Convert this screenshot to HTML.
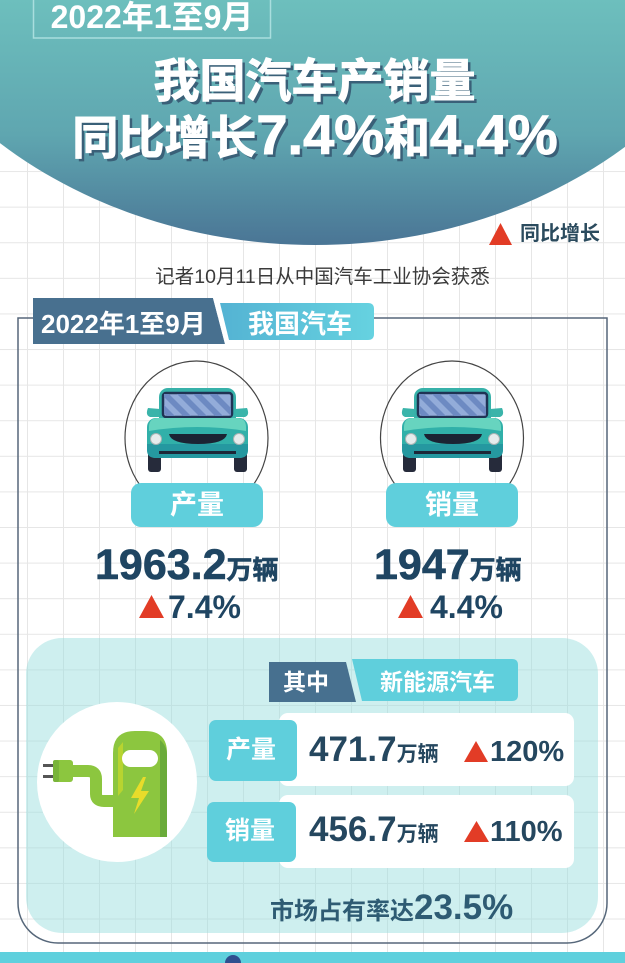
<!DOCTYPE html>
<html><head><meta charset="utf-8">
<style>
html,body{margin:0;padding:0;}
body{width:625px;height:963px;position:relative;overflow:hidden;background-color:#fff;
background-image:linear-gradient(to right,#e6e6e6 1px,transparent 1px),linear-gradient(to bottom,#e6e6e6 1px,transparent 1px);
background-size:36px 35.6px;background-position:27px 28.7px;
font-family:"Liberation Sans","Noto Sans CJK SC",sans-serif;}
.t{position:absolute;white-space:nowrap;font-weight:bold;}
svg{position:absolute;left:0;top:0;}
</style></head><body>
<svg width="625" height="963" viewBox="0 0 625 963">
<defs>
<linearGradient id="tg" gradientUnits="userSpaceOnUse" x1="0" y1="0" x2="0" y2="245">
<stop offset="0" stop-color="#6dbfbd"/><stop offset="0.55" stop-color="#5fa6b0"/><stop offset="1" stop-color="#4a7595"/>
</linearGradient>
<linearGradient id="lt" x1="0" y1="0" x2="1" y2="0">
<stop offset="0" stop-color="#54b3d3"/><stop offset="1" stop-color="#66d2e0"/>
</linearGradient>
<clipPath id="ws"><rect x="17" y="6" width="67" height="22"/></clipPath>
</defs>
<ellipse cx="315" cy="-150" rx="470" ry="395" fill="url(#tg)"/>
<rect x="33.5" y="-2" width="237" height="40" fill="none" stroke="#a9dede" stroke-width="1.5"/>
<polygon points="489,245 500.5,223 512,245" fill="#e23c26"/>
<path d="M18,318 H607 V903 A40,40 0 0 1 567,943 H58 A40,40 0 0 1 18,903 Z" fill="none" stroke="#56677a" stroke-width="1.5"/>
<polygon points="33,298 213,298 225,344 33,344" fill="#48708f"/>
<polygon points="213,298 221,298 233,344 225,344" fill="#fff"/>
<path d="M220,303 H368 Q374,303 374,309 V334 Q374,340 368,340 H229 Z" fill="url(#lt)"/>
<ellipse cx="196.5" cy="438" rx="71.5" ry="77" fill="none" stroke="#444" stroke-width="1.2"/>
<ellipse cx="452" cy="438" rx="71.5" ry="77" fill="none" stroke="#444" stroke-width="1.2"/>
<g transform="translate(147,388)">
<rect x="1" y="62" width="13" height="22" rx="3" fill="#262b3b"/>
<rect x="87" y="62" width="13" height="22" rx="3" fill="#262b3b"/>
<path d="M13,21 L1,20 Q-2,27 3,29 L13,29 Z" fill="#3ab4aa"/>
<path d="M88,21 L100,20 Q103,27 98,29 L88,29 Z" fill="#3ab4aa"/>
<rect x="12" y="0" width="77" height="40" rx="9" fill="#37b1a9"/>
<rect x="16" y="5" width="69" height="24" rx="3" fill="#93acd9" stroke="#1f3354" stroke-width="2.5"/>
<g clip-path="url(#ws)" fill="#6d8ac2">
<polygon points="14,6 22,6 44,28 36,28"/><polygon points="30,6 38,6 60,28 52,28"/>
<polygon points="46,6 54,6 76,28 68,28"/><polygon points="62,6 70,6 92,28 84,28"/>
<polygon points="-2,6 6,6 28,28 20,28"/>
</g>
<rect x="0" y="30" width="101" height="40" rx="9" fill="#31b0a9"/>
<path d="M2,39 Q2,30 11,30 H90 Q99,30 99,39 L99,43 Q50,35 2,43 Z" fill="#67d4bf"/>
<path d="M0,56 H101 V62 Q101,70 92,70 H9 Q0,70 0,62 Z" fill="#2598a0"/>
<circle cx="9" cy="51" r="5.5" fill="#e6ecec" stroke="#a9b3b3" stroke-width="1"/>
<circle cx="92" cy="51" r="5.5" fill="#e6ecec" stroke="#a9b3b3" stroke-width="1"/>
<path d="M22,46 H80 Q78,56 51,56 Q24,56 22,46 Z" fill="#1b2333"/>
<rect x="12" y="63" width="77" height="3" fill="#1d2838"/>
</g>
<g transform="translate(402,388)">
<rect x="1" y="62" width="13" height="22" rx="3" fill="#262b3b"/>
<rect x="87" y="62" width="13" height="22" rx="3" fill="#262b3b"/>
<path d="M13,21 L1,20 Q-2,27 3,29 L13,29 Z" fill="#3ab4aa"/>
<path d="M88,21 L100,20 Q103,27 98,29 L88,29 Z" fill="#3ab4aa"/>
<rect x="12" y="0" width="77" height="40" rx="9" fill="#37b1a9"/>
<rect x="16" y="5" width="69" height="24" rx="3" fill="#93acd9" stroke="#1f3354" stroke-width="2.5"/>
<g clip-path="url(#ws)" fill="#6d8ac2">
<polygon points="14,6 22,6 44,28 36,28"/><polygon points="30,6 38,6 60,28 52,28"/>
<polygon points="46,6 54,6 76,28 68,28"/><polygon points="62,6 70,6 92,28 84,28"/>
<polygon points="-2,6 6,6 28,28 20,28"/>
</g>
<rect x="0" y="30" width="101" height="40" rx="9" fill="#31b0a9"/>
<path d="M2,39 Q2,30 11,30 H90 Q99,30 99,39 L99,43 Q50,35 2,43 Z" fill="#67d4bf"/>
<path d="M0,56 H101 V62 Q101,70 92,70 H9 Q0,70 0,62 Z" fill="#2598a0"/>
<circle cx="9" cy="51" r="5.5" fill="#e6ecec" stroke="#a9b3b3" stroke-width="1"/>
<circle cx="92" cy="51" r="5.5" fill="#e6ecec" stroke="#a9b3b3" stroke-width="1"/>
<path d="M22,46 H80 Q78,56 51,56 Q24,56 22,46 Z" fill="#1b2333"/>
<rect x="12" y="63" width="77" height="3" fill="#1d2838"/>
</g>
<rect x="131" y="483" width="132" height="44" rx="10" fill="#5fcfdc"/>
<rect x="386" y="483" width="132" height="44" rx="10" fill="#5fcfdc"/>
<polygon points="139,618 151.5,595 164,618" fill="#e23c26"/>
<polygon points="398,618 410.5,595 423,618" fill="#e23c26"/>
<rect x="26" y="638" width="572" height="295" rx="36" fill="rgba(150,222,220,0.47)"/>
<polygon points="269,662 346,662 356,702 269,702" fill="#47708f"/>
<path d="M352,659 H512 Q518,659 518,665 V695 Q518,701 512,701 H362 Z" fill="#5fcfdc"/>
<circle cx="117" cy="782" r="80" fill="#fff"/>
<path d="M68,771 H88 Q96,771 96,779 V794 Q96,801 104,801 H118" fill="none" stroke="#8cc63f" stroke-width="12"/>
<rect x="43" y="764" width="11" height="3" fill="#555"/>
<rect x="43" y="775" width="11" height="3" fill="#555"/>
<rect x="53" y="760" width="20" height="22" rx="3" fill="#8cc63f"/>
<rect x="53" y="760" width="6" height="22" rx="2" fill="#79b43a"/>
<path d="M113,837 V753 Q113,731 135,731 H145 Q167,731 167,753 V837 Z" fill="#8cc63f"/>
<path d="M160,740 Q167,746 167,755 V837 H160 Z" fill="#6aab3a"/>
<polygon points="118,748 123,742 123,790 118,796" fill="#b8d430"/>
<rect x="122" y="750" width="36" height="17" rx="8.5" fill="#fff"/>
<polygon points="143,777 131,798 139,798 134,814 149,791 141,791 146,777" fill="#e8dc2a"/>
<rect x="279" y="713" width="295" height="73" rx="9" fill="#fff"/>
<rect x="209" y="720" width="88" height="61" rx="7" fill="#5fcfdc"/>
<rect x="279" y="795" width="295" height="73" rx="9" fill="#fff"/>
<rect x="207" y="802" width="89" height="60" rx="7" fill="#5fcfdc"/>
<polygon points="464,762 476,741 488,762" fill="#e23c26"/>
<polygon points="464,842 476.5,821 489,842" fill="#e23c26"/>
<rect x="0" y="952" width="625" height="11" fill="#5fd0dd"/>
<circle cx="233" cy="963" r="8" fill="#2f4f8f"/>
</svg>

<div class="t" style="left:33px;top:-3px;width:238px;text-align:center;font-size:32px;line-height:40px;color:#fff;">2022年1至9月</div>
<div class="t" style="left:0;top:56px;width:629px;text-align:center;font-size:46px;line-height:50px;color:#fff;-webkit-text-stroke:1px #fff;text-shadow:3px 3px 0 #3a6078;">我国汽车产销量</div>
<div class="t" style="left:0;top:108px;width:630px;text-align:center;font-size:46px;line-height:60px;color:#fff;-webkit-text-stroke:1px #fff;text-shadow:3px 3px 0 #3a6078;">同比增长<span style="font-size:56px;line-height:40px;">7.4%</span>和<span style="font-size:56px;line-height:40px;">4.4%</span></div>
<div class="t" style="left:520px;top:222px;font-size:20px;line-height:24px;color:#2b4b5e;">同比增长</div>
<div class="t" style="left:0;top:265px;width:645px;text-align:center;font-size:19.5px;line-height:24px;color:#3a3a3a;font-weight:normal;">记者10月11日从中国汽车工业协会获悉</div>

<div class="t" style="left:41px;top:309px;font-size:26px;line-height:30px;color:#fff;">2022年1至9月</div>
<div class="t" style="left:248px;top:309px;font-size:26px;line-height:30px;color:#fff;">我国汽车</div>

<div class="t" style="left:131px;top:490px;width:132px;text-align:center;font-size:27px;line-height:30px;color:#fff;">产量</div>
<div class="t" style="left:386px;top:490px;width:132px;text-align:center;font-size:27px;line-height:30px;color:#fff;">销量</div>

<div class="t" style="left:95px;top:540px;font-size:43px;line-height:50px;color:#1f4562;-webkit-text-stroke:0.6px #1f4562;">1963.2<span style="font-size:26px;line-height:30px;">万辆</span></div>
<div class="t" style="left:374px;top:540px;font-size:43px;line-height:50px;color:#1f4562;-webkit-text-stroke:0.6px #1f4562;">1947<span style="font-size:26px;line-height:30px;">万辆</span></div>
<div class="t" style="left:168px;top:587px;font-size:32px;line-height:40px;color:#1f4562;">7.4%</div>
<div class="t" style="left:430px;top:587px;font-size:32px;line-height:40px;color:#1f4562;">4.4%</div>

<div class="t" style="left:283px;top:667px;font-size:23px;line-height:30px;color:#fff;">其中</div>
<div class="t" style="left:380px;top:667px;font-size:23px;line-height:30px;color:#fff;">新能源汽车</div>

<div class="t" style="left:226px;top:735px;font-size:25px;line-height:30px;color:#fff;">产量</div>
<div class="t" style="left:225px;top:816px;font-size:25px;line-height:30px;color:#fff;">销量</div>

<div class="t" style="left:309px;top:730px;font-size:35px;line-height:40px;color:#25475f;">471.7<span style="font-size:21px;line-height:24px;">万辆</span></div>
<div class="t" style="left:490px;top:732px;font-size:29px;line-height:40px;color:#25475f;">120%</div>
<div class="t" style="left:309px;top:810px;font-size:35px;line-height:40px;color:#25475f;">456.7<span style="font-size:21px;line-height:24px;">万辆</span></div>
<div class="t" style="left:490px;top:812px;font-size:29px;line-height:40px;color:#25475f;">110%</div>

<div class="t" style="left:270px;top:888px;font-size:24px;line-height:40px;color:#2e5b73;">市场占有率达<span style="font-size:35px;line-height:40px;">23.5%</span></div>
</body></html>
